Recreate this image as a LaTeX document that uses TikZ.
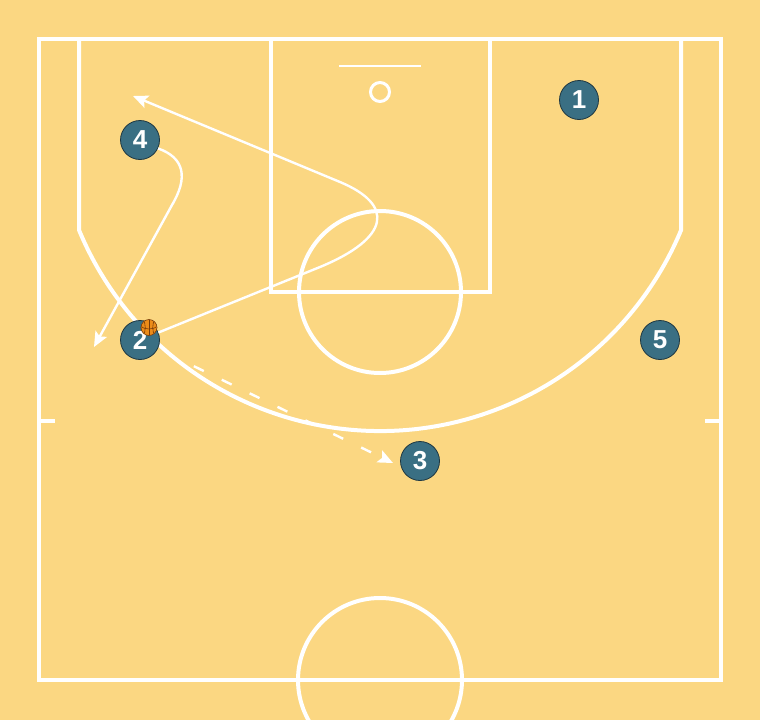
\documentclass[tikz,border=0pt]{standalone}
\usepackage{fontspec}
\newfontfamily\pfont{Liberation Sans}
\usetikzlibrary{arrows.meta}
\definecolor{courtbg}{RGB}{251,215,130}
\definecolor{playerfill}{RGB}{58,111,131}
\definecolor{playerline}{RGB}{30,55,65}
\definecolor{ballfill}{RGB}{236,140,25}
\definecolor{ballline}{RGB}{120,60,10}
\begin{document}
\begin{tikzpicture}[x=1pt,y=-1pt,
  court/.style={draw=white,line width=4pt},
  player/.style={circle,fill=playerfill,draw=playerline,line width=0.8pt,minimum size=39pt,inner sep=0pt,text=white,font=\pfont\bfseries\fontsize{26}{26}\selectfont},
  ballnode/.style={circle,fill=ballfill,draw=ballline,line width=0.6pt,minimum size=16pt,inner sep=0pt},
  move/.style={draw=white,line width=2.4pt,-{Stealth[length=15pt,width=13pt,inset=3pt]}},
  pass/.style={move,dash pattern=on 11pt off 20pt}]
\fill[courtbg] (0,0) rectangle (760,720);
\useasboundingbox (0,0) rectangle (760,720);
\clip (0,0) rectangle (760,720);
% court
\draw[court] (39,39) rectangle (721,680);
\draw[court] (270.5,39) -- (270.5,292) -- (489.5,292) -- (489.5,39);
\draw[court] (380,292) circle[radius=81];
\draw[court] (380,680) circle[radius=82];
\draw[court] (79,39) -- (79,230) arc[start angle=157.45, end angle=22.55, radius=326] -- (681,39);
\draw[court] (39,420.5) -- (55,420.5);
\draw[court] (705,420.5) -- (721,420.5);
\draw[white,line width=2pt] (339,65.5) -- (421,65.5);
\draw[white,line width=3pt] (380,92) circle[radius=9.5];
% players
\node[player] (p1) at (579,100) {1};
\node[player] (p4) at (140,140) {4};
\node[player] (p2) at (140,340) {2};
\node[player] (p5) at (660,340) {5};
\node[player] (p3) at (420,461) {3};
% movements
\coordinate (a1) at (320,267);
\coordinate (a2) at (340,182);
\coordinate (t1) at (133,96);
\draw[move] (p2) -- (a1) .. controls (390,238) and (395,205) .. (a2) -- (t1);
\coordinate (b1) at (172,205);
\coordinate (t4) at (94,347);
\draw[move] (p4.-25) .. controls (185,158) and (188,178) .. (b1) -- (t4);
\coordinate (t3) at (393,463);
\draw[pass,shorten <=40pt] (p2) -- (t3);
% ball
\node[ballnode] (ball) at (149,327.5) {};
\begin{scope}
\clip (149,327.5) circle[radius=7.6];
\draw[ballline,line width=0.6pt] (149,319) -- (149,336);
\draw[ballline,line width=0.6pt] (140,326) .. controls (145,330) and (153,330) .. (158,326);
\draw[ballline,line width=0.6pt] (143,319) .. controls (146,324) and (146,331) .. (143,336);
\draw[ballline,line width=0.6pt] (155,319) .. controls (152,324) and (152,331) .. (155,336);
\end{scope}
\end{tikzpicture}
\end{document}
